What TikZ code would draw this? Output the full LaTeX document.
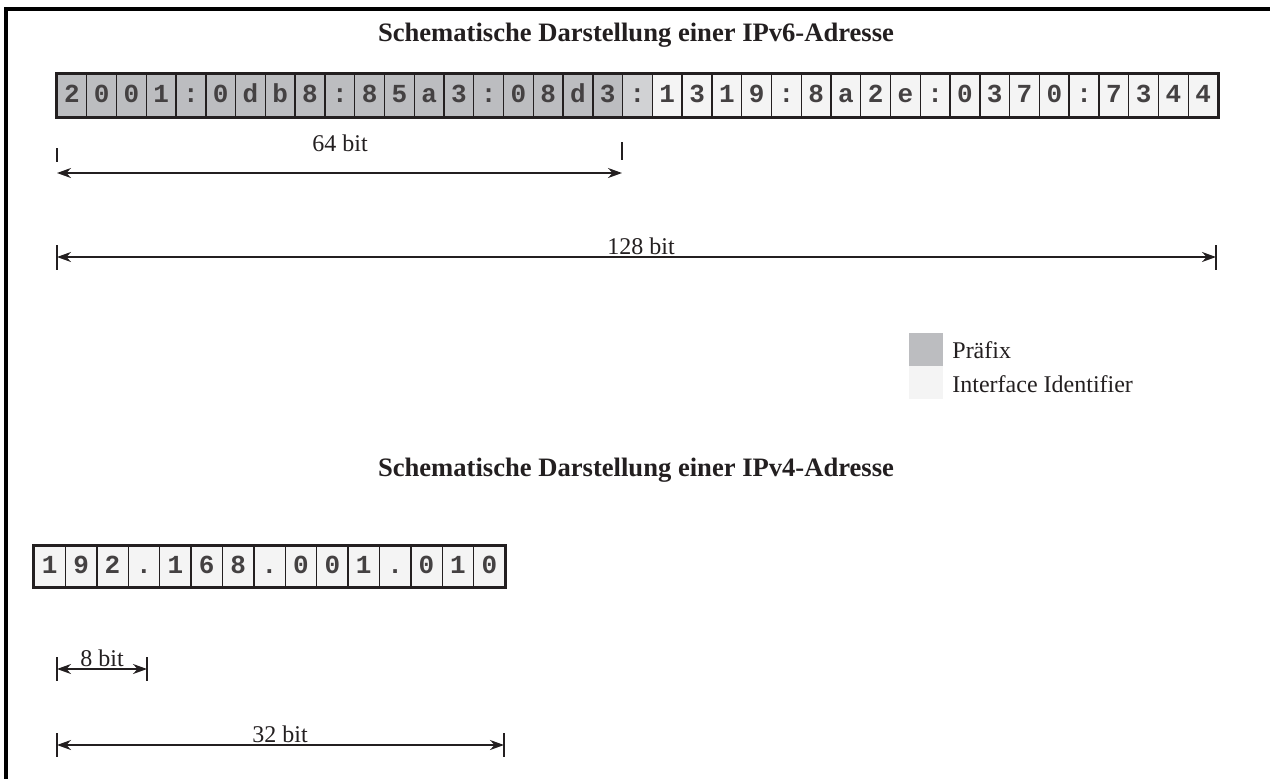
\documentclass[tikz,border=0pt]{standalone}
\usepackage{fontspec}
\setmainfont{Liberation Serif}
\setmonofont{Liberation Mono}
\usetikzlibrary{arrows.meta}
\definecolor{pre}{HTML}{BCBDC0}
\definecolor{mid}{HTML}{D1D2D4}
\definecolor{ifc}{HTML}{F4F4F4}
\definecolor{ink}{HTML}{231F20}
\tikzset{
  cell/.style={draw=ink, line width=0.7pt, minimum width=14.885pt, minimum height=21.5pt, inner sep=0pt,
    font=\ttfamily\bfseries\fontsize{13}{13}\selectfont, text=ink!85, text height=7pt, text depth=0pt},
  cellf/.style={cell, minimum width=15.7pt, minimum height=20.5pt},
  title/.style={font=\bfseries\fontsize{13.3}{14}\selectfont, text=ink},
  lbl/.style={font=\fontsize{12}{12}\selectfont, text=ink, inner sep=0pt},
  dim/.style={draw=ink, line width=1pt, {Stealth[length=7pt,width=5pt]}-{Stealth[length=7pt,width=5pt]}},
  tick/.style={draw=ink, line width=0.6pt},
  frame/.style={draw=black, line width=1.6pt}
}
\begin{document}
\begin{tikzpicture}[x=0.5pt,y=-0.5pt]
\useasboundingbox (0,0) rectangle (1270,778);
\draw[frame] (6,800) -- (6,9) -- (1290,9);

\node[title] (t6) at (636,35) {Schematische Darstellung einer IPv6-Adresse};

\foreach \ch [count=\i from 0] in {2,0,0,1,:,0,d,b,8,:,8,5,a,3,:,0,8,d,3,:,1,3,1,9,:,8,a,2,e,:,0,3,7,0,:,7,3,4,4}{
  \ifnum\i<19 \def\fc{pre}\else\ifnum\i=19 \def\fc{mid}\else\def\fc{ifc}\fi\fi
  \node[cell, fill=\fc] (v\i) at ({57+29.77*\i+14.885},95.5) {\ch};
}
\draw[draw=ink, line width=1.6pt] (v0.north west) rectangle (v38.south east);

% 64 bit
\coordinate (a64l) at (57,173);
\coordinate (a64r) at (622,173);
\draw[tick] (57,148) -- (57,162);
\draw[tick] (622,142) -- (622,160);
\draw[dim] (a64l) -- (a64r);
\node[lbl] (l64) at (340,143) {64 bit};

% 128 bit
\coordinate (a128l) at (57,257);
\coordinate (a128r) at (1216,257);
\draw[tick] (57,245) -- (57,270);
\draw[tick] (1216,245) -- (1216,270);
\draw[dim] (a128l) -- (a128r);
\node[lbl, anchor=base] (l128) at (641,254) {128 bit};

% legend
\node[fill=pre, minimum width=17pt, minimum height=16.5pt, inner sep=0pt, anchor=north west] (kp) at (909,333) {};
\node[fill=ifc, minimum width=17pt, minimum height=16.5pt, inner sep=0pt, anchor=north west] (ki) at (909,366) {};
\node[lbl, anchor=west] (tp) at (952,350) {Präfix};
\node[lbl, anchor=west] (ti) at (952,384) {Interface Identifier};

\node[title] (t4) at (636,470) {Schematische Darstellung einer IPv4-Adresse};

\foreach \ch [count=\i from 0] in {1,9,2,.,1,6,8,.,0,0,1,.,0,1,0}{
  \node[cellf, fill=ifc] (w\i) at ({34+31.4*\i+15.7},566.5) {\ch};
}
\draw[draw=ink, line width=1.6pt] (w0.north west) rectangle (w14.south east);

% 8 bit
\coordinate (a8l) at (57,669);
\coordinate (a8r) at (147,669);
\draw[tick] (57,657) -- (57,681);
\draw[tick] (147,657) -- (147,681);
\draw[dim] (a8l) -- (a8r);
\node[lbl, anchor=base] (l8) at (102,666) {8 bit};

% 32 bit
\coordinate (a32l) at (57,745);
\coordinate (a32r) at (504,745);
\draw[tick] (57,733) -- (57,757);
\draw[tick] (504,733) -- (504,757);
\draw[dim] (a32l) -- (a32r);
\node[lbl, anchor=base] (l32) at (280,742) {32 bit};
\end{tikzpicture}
\end{document}
